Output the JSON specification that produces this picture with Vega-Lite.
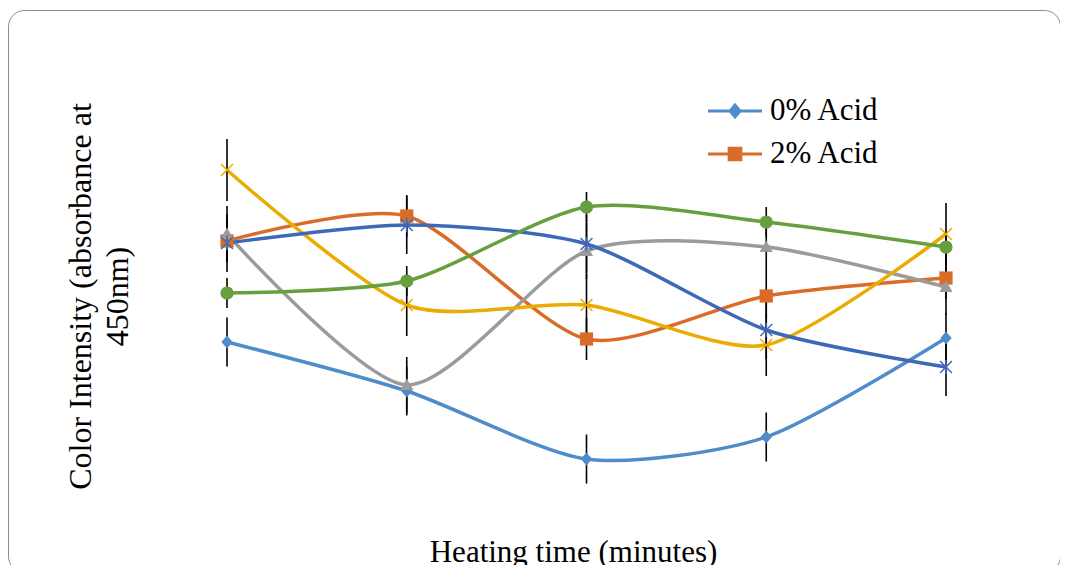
{
  "$schema": "https://vega.github.io/schema/vega-lite/v6.json",
  "autosize": "none",
  "padding": {"left": 8, "top": 10, "right": 0, "bottom": 0},
  "width": 1052,
  "height": 562,
  "config": {
    "view": {"stroke": "#8c8c8c", "strokeWidth": 1, "cornerRadius": 16},
    "font": "Liberation Serif",
    "point": {"size": 175, "opacity": 1, "strokeWidth": 1.5}
  },
  "data": {
    "values": [
      {"series": "0% Acid", "t": 1, "v": 1.58, "e": 0.245},
      {"series": "0% Acid", "t": 2, "v": 1.09, "e": 0.245},
      {"series": "0% Acid", "t": 3, "v": 0.41, "e": 0.245},
      {"series": "0% Acid", "t": 4, "v": 0.63, "e": 0.245},
      {"series": "0% Acid", "t": 5, "v": 1.62, "e": 0.245},
      {"series": "2% Acid", "t": 1, "v": 2.59, "e": 0.21},
      {"series": "2% Acid", "t": 2, "v": 2.84, "e": 0.21},
      {"series": "2% Acid", "t": 3, "v": 1.61, "e": 0.21},
      {"series": "2% Acid", "t": 4, "v": 2.04, "e": 0.21},
      {"series": "2% Acid", "t": 5, "v": 2.22, "e": 0.21},
      {"series": "4% Acid", "t": 1, "v": 2.66, "e": 0.28},
      {"series": "4% Acid", "t": 2, "v": 1.15, "e": 0.28},
      {"series": "4% Acid", "t": 3, "v": 2.49, "e": 0.28},
      {"series": "4% Acid", "t": 4, "v": 2.53, "e": 0.28},
      {"series": "4% Acid", "t": 5, "v": 2.13, "e": 0.28},
      {"series": "6% Acid", "t": 1, "v": 3.30, "e": 0.31},
      {"series": "6% Acid", "t": 2, "v": 1.95, "e": 0.31},
      {"series": "6% Acid", "t": 3, "v": 1.95, "e": 0.31},
      {"series": "6% Acid", "t": 4, "v": 1.55, "e": 0.31},
      {"series": "6% Acid", "t": 5, "v": 2.66, "e": 0.31},
      {"series": "8% Acid", "t": 1, "v": 2.57, "e": 0.29},
      {"series": "8% Acid", "t": 2, "v": 2.75, "e": 0.29},
      {"series": "8% Acid", "t": 3, "v": 2.56, "e": 0.29},
      {"series": "8% Acid", "t": 4, "v": 1.70, "e": 0.29},
      {"series": "8% Acid", "t": 5, "v": 1.33, "e": 0.29},
      {"series": "10% Acid", "t": 1, "v": 2.07, "e": 0.15},
      {"series": "10% Acid", "t": 2, "v": 2.19, "e": 0.15},
      {"series": "10% Acid", "t": 3, "v": 2.93, "e": 0.15},
      {"series": "10% Acid", "t": 4, "v": 2.78, "e": 0.15},
      {"series": "10% Acid", "t": 5, "v": 2.53, "e": 0.15}
    ]
  },
  "encoding": {
    "x": {
      "field": "t", "type": "quantitative",
      "scale": {"domain": [-0.2184, 5.6343], "nice": false, "zero": false},
      "axis": {
        "title": "Heating time (minutes)",
        "domain": false, "ticks": false, "labels": false, "grid": false,
        "titleFont": "Liberation Serif", "titleFontSize": 31, "titleFontWeight": "normal", "titleColor": "black",
        "titleX": 565, "titleY": -11, "titleAlign": "center", "titleBaseline": "alphabetic", "titleAnchor": null
      }
    },
    "y": {
      "field": "v", "type": "quantitative",
      "scale": {"domain": [-0.72, 4.9], "nice": false, "zero": false},
      "axis": {
        "title": ["Color Intensity (absorbance at", "450nm)"],
        "domain": false, "ticks": false, "labels": false, "grid": false,
        "titleFont": "Liberation Serif", "titleFontSize": 32, "titleFontWeight": "normal", "titleColor": "black",
        "titleLineHeight": 37, "titleAngle": -90,
        "titleX": 82, "titleY": 286, "titleAlign": "center", "titleBaseline": "alphabetic"
      }
    },
    "color": {
      "field": "series", "type": "nominal",
      "scale": {
        "domain": ["0% Acid", "2% Acid", "4% Acid", "6% Acid", "8% Acid", "10% Acid"],
        "range": ["#4f8cc9", "#da6c2a", "#9b9b9b", "#eaac00", "#3e68b8", "#66a03e"]
      },
      "legend": {
        "values": ["0% Acid", "2% Acid"],
        "orient": "none", "legendX": 711.5, "legendY": 85.5, "title": null,
        "padding": 0,
        "labelFont": "Liberation Serif", "labelFontSize": 31, "labelColor": "black",
        "symbolSize": 529, "symbolStrokeWidth": 3.2, "labelOffset": 19.5, "rowPadding": 11,
        "encode": {
          "symbols": {
            "update": {
              "shape": {"signal": "datum.value === '0% Acid' ? 'M-2.35,0L2.35,0M-0.42,0L0,-0.5L0.42,0L0,0.5Z' : 'M-2.35,0L2.35,0M-0.5,-0.5L0.5,-0.5L0.5,0.5L-0.5,0.5Z'"},
              "fill": {"scale": "color", "field": "value"},
              "stroke": {"scale": "color", "field": "value"},
              "opacity": {"value": 1}
            }
          }
        }
      }
    }
  },
  "layer": [
    {
      "mark": {"type": "line", "interpolate": "cardinal", "tension": 0.25, "strokeWidth": 3.5},
      "encoding": {"order": {"field": "t"}}
    },
    {
      "mark": {"type": "errorbar", "ticks": false, "color": "black", "thickness": 1.6},
      "encoding": {
        "y": {"field": "v", "type": "quantitative"},
        "yError": {"field": "e"},
        "detail": {"field": "series"},
        "color": {"value": "black"}
      }
    },
    {
      "transform": [{"filter": "datum.series === '0% Acid'"}],
      "mark": {"type": "point", "filled": true, "shape": "M0,-1L0.85,0L0,1L-0.85,0Z"}
    },
    {
      "transform": [{"filter": "datum.series === '2% Acid'"}],
      "mark": {"type": "point", "filled": true, "shape": "square"}
    },
    {
      "transform": [{"filter": "datum.series === '4% Acid'"}],
      "mark": {"type": "point", "filled": true, "shape": "M0,-1L1,0.75L-1,0.75Z"}
    },
    {
      "transform": [{"filter": "datum.series === '6% Acid'"}],
      "mark": {"type": "point", "filled": false, "shape": "M-0.9,-0.9L0.9,0.9M0.9,-0.9L-0.9,0.9"}
    },
    {
      "transform": [{"filter": "datum.series === '8% Acid'"}],
      "mark": {"type": "point", "filled": false, "shape": "M-0.9,-0.9L0.9,0.9M0.9,-0.9L-0.9,0.9M0,-1.1L0,1.1"}
    },
    {
      "transform": [{"filter": "datum.series === '10% Acid'"}],
      "mark": {"type": "point", "filled": true, "shape": "circle"}
    }
  ]
}
